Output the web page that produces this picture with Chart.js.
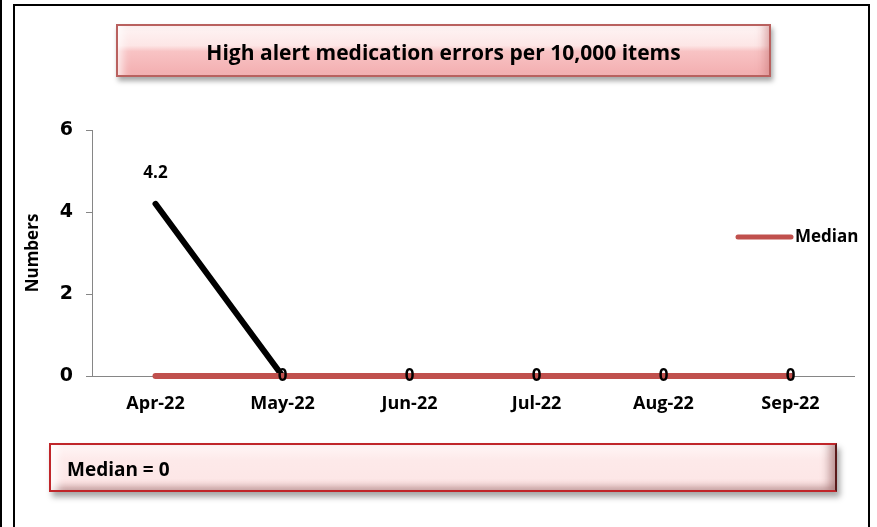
<!DOCTYPE html>
<html>
<head>
<meta charset="utf-8">
<script src="https://cdn.jsdelivr.net/npm/chart.js@4.4.0/dist/chart.umd.min.js"></script>
<style>
  html, body { margin: 0; padding: 0; background: #fff; }
  body { width: 877px; height: 527px; position: relative; overflow: hidden; font-family: "Open Sans", sans-serif; }
  #edge { position: absolute; left: 0; top: 0; width: 2px; height: 527px; background: #000; }
  #frame { position: absolute; left: 13px; top: 4px; width: 857px; height: 560px; border: 2px solid #000; box-sizing: border-box; }
  #chart { position: absolute; left: 0; top: 0; }
  .box { position: absolute; box-sizing: border-box; font-weight: bold; color: #000; }
  #titleBox {
    left: 116px; top: 24px; width: 655px; height: 53px;
    border: 2px solid #b9615f;
    background: linear-gradient(to bottom, #fef4f4 0%, #fde6e6 40%, #f8c3c4 52%, #f3aeb0 100%);
    box-shadow: inset 10px 0 10px -6px rgba(255,255,255,0.8), inset -10px 0 10px -6px rgba(200,120,120,0.6), 2px 4px 5px rgba(0,0,0,0.35);
    font-size: 21px; text-align: center; line-height: 52px;
  }
  #medianBox {
    left: 49px; top: 443px; width: 788px; height: 49px;
    border: 2px solid #c0262a; border-right-color: #5a1a1a;
    background: linear-gradient(to bottom, #fff6f6 0%, #fde9e9 35%, #fde7e7 75%, #f2d2d2 100%);
    box-shadow: inset 12px 0 8px -6px rgba(255,255,255,0.9), inset -12px 0 8px -6px rgba(150,100,100,0.6), inset 0 -6px 6px -3px rgba(150,110,110,0.5), 3px 5px 6px rgba(0,0,0,0.35);
    font-size: 19px; line-height: 49px; padding-left: 16px;
  }
</style>
</head>
<body>
<div id="edge"></div>
<div id="frame"></div>
<canvas id="chart" width="877" height="527"></canvas>
<div class="box" id="titleBox">High alert medication errors per 10,000 items</div>
<div class="box" id="medianBox">Median = 0</div>
<script>
// dados do gráfico
const months = ['Apr-22', 'May-22', 'Jun-22', 'Jul-22', 'Aug-22', 'Sep-22'];
const errorsPer10k = [4.2, 0, 0, 0, 0, 0];
const medianValues = [0, 0, 0, 0, 0, 0];
const yTicks = [0, 2, 4, 6];

const RED = '#c0504d';
const AXIS = '#868686';
const FONT = 'Open Sans';

// rótulos de valor da série preta
const valueLabels = {
    id: 'valueLabels',
    afterDatasetsDraw(chart) {
        const ctx = chart.ctx;
        const meta = chart.getDatasetMeta(1);
        const values = chart.data.datasets[1].data;
        ctx.save();
        ctx.font = 'bold 17px "' + FONT + '"';
        ctx.fillStyle = '#000';
        ctx.textAlign = 'center';
        ctx.textBaseline = 'middle';
        meta.data.forEach((pt, i) => {
            const v = values[i];
            const y = v > 0 ? pt.y - 31 : pt.y;
            ctx.fillText(String(v), pt.x, y);
        });
        ctx.restore();
    }
};

// legenda no estilo do Excel, por cima da área do gráfico
const sideLegend = {
    id: 'sideLegend',
    afterDraw(chart) {
        const ctx = chart.ctx;
        const ds = chart.data.datasets[0];
        const y = 237;
        ctx.save();
        ctx.strokeStyle = ds.borderColor;
        ctx.lineWidth = 5;
        ctx.lineCap = 'round';
        ctx.beginPath();
        ctx.moveTo(738, y);
        ctx.lineTo(791, y);
        ctx.stroke();
        ctx.font = 'bold 17px "' + FONT + '"';
        ctx.fillStyle = '#000';
        ctx.textBaseline = 'middle';
        ctx.fillText(ds.label, 795, y);
        ctx.restore();
    }
};

new Chart(document.getElementById('chart'), {
    type: 'line',
    data: {
        labels: months,
        datasets: [
            {
                label: 'Median',
                data: medianValues,
                borderColor: RED,
                borderWidth: 6,
                borderCapStyle: 'round',
                pointRadius: 0,
                clip: false,
                order: 0
            },
            {
                label: 'High alert medication errors',
                data: errorsPer10k,
                borderColor: '#000',
                borderWidth: 6,
                borderCapStyle: 'round',
                pointRadius: 0,
                clip: false,
                order: 1
            }
        ]
    },
    options: {
        responsive: false,
        animation: false,
        layout: { padding: { left: 20, right: 23, top: 130, bottom: 111 } },
        plugins: {
            legend: { display: false },
            title: { display: false },
            tooltip: { enabled: false }
        },
        scales: {
            x: {
                offset: true,
                grid: { display: false, drawTicks: false },
                border: { display: true, color: AXIS, width: 1 },
                ticks: {
                    color: '#000',
                    padding: 17,
                    font: { family: FONT, weight: 'bold', size: 18 }
                },
                afterFit(scale) { scale.height = 40; }
            },
            y: {
                min: 0,
                max: 6,
                afterBuildTicks(scale) { scale.ticks = yTicks.map(v => ({ value: v })); },
                grid: { display: true, drawOnChartArea: false, drawTicks: true, tickLength: 6, color: AXIS },
                border: { display: true, color: AXIS, width: 1 },
                ticks: {
                    color: '#000',
                    padding: 13,
                    font: { family: 'DejaVu Sans', weight: 'bold', size: 19 }
                },
                title: {
                    display: true,
                    text: 'Numbers',
                    color: '#000',
                    padding: { top: 3, bottom: 0 },
                    font: { family: FONT, weight: 'bold', size: 17 }
                },
                afterFit(scale) { scale.width = 72; }
            }
        }
    },
    plugins: [valueLabels, sideLegend]
});
</script>
</body>
</html>
